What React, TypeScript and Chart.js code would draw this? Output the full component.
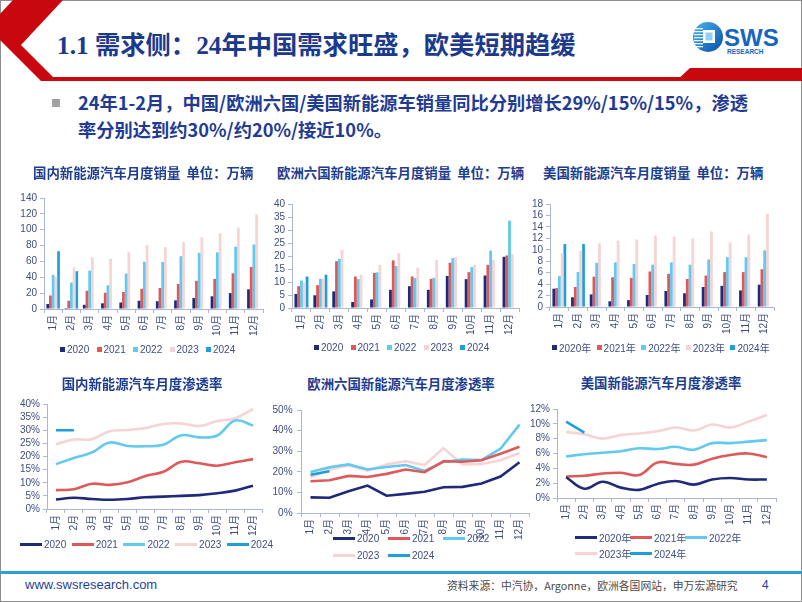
import React, { useEffect, useRef } from "react";
import { Chart, registerables } from "chart.js";

Chart.register(...registerables);

// ---------------- data ----------------
const months = ["1月", "2月", "3月", "4月", "5月", "6月", "7月", "8月", "9月", "10月", "11月", "12月"];
const yearLabels = ["2020", "2021", "2022", "2023", "2024"];
const yearLabelsCn = ["2020年", "2021年", "2022年", "2023年", "2024年"];
const yearColors = ["#1f2a78", "#de5a5a", "#62c9ef", "#f6d3d4", "#1f9fd8"];

// 国内新能源汽车月度销量（万辆）
const cnSales2020 = [6.3, 1.2, 5.3, 7.2, 8.2, 10.4, 9.8, 10.9, 13.8, 16.0, 20.0, 24.8];
const cnSales2021 = [17.0, 10.5, 23.0, 20.5, 21.5, 25.5, 26.5, 31.5, 35.5, 38.0, 45.0, 53.0];
const cnSales2022 = [43.0, 33.4, 48.4, 29.9, 44.7, 59.6, 59.3, 66.6, 70.8, 71.4, 78.6, 81.4];
const cnSales2023 = [40.8, 52.5, 65.3, 63.6, 71.7, 80.6, 78.0, 84.6, 90.4, 95.6, 102.6, 119.1];
const cnSales2024 = [72.9, 47.7, null, null, null, null, null, null, null, null, null, null];

// 欧洲六国新能源汽车月度销量（万辆）
const euSales2020 = [5.4, 4.9, 6.4, 2.3, 3.3, 7.0, 8.4, 7.0, 12.3, 11.1, 12.5, 19.7];
const euSales2021 = [8.4, 8.8, 18.0, 12.1, 13.5, 18.3, 12.1, 11.2, 17.4, 13.8, 16.6, 20.2];
const euSales2022 = [10.6, 11.2, 18.9, 11.1, 13.7, 16.2, 11.5, 11.6, 19.2, 15.7, 22.1, 33.6];
const euSales2023 = [9.8, 11.3, 22.4, 12.8, 16.6, 21.1, 15.5, 18.5, 19.6, 16.6, 18.5, 20.7];
const euSales2024 = [12.1, 12.8, null, null, null, null, null, null, null, null, null, null];

// 美国新能源汽车月度销量（万辆）
const usSales2020 = [3.2, 1.7, 2.2, 1.0, 1.2, 2.1, 2.8, 2.4, 3.5, 3.7, 2.9, 3.9];
const usSales2021 = [3.3, 3.5, 5.3, 5.2, 5.1, 6.2, 5.8, 4.9, 5.5, 6.1, 6.1, 6.6];
const usSales2022 = [5.4, 6.1, 7.7, 7.8, 7.5, 7.4, 7.8, 7.4, 8.3, 8.7, 8.7, 9.9];
const usSales2023 = [9.4, 9.8, 11.1, 11.6, 11.8, 12.5, 12.3, 12.0, 13.2, 11.3, 12.7, 16.3];
const usSales2024 = [11.0, 11.0, null, null, null, null, null, null, null, null, null, null];

// 国内新能源汽车月度渗透率（%）
const cnPen2020 = [3.6, 4.3, 3.8, 3.5, 3.8, 4.5, 4.7, 5.0, 5.3, 6.0, 7.0, 8.9];
const cnPen2021 = [7.2, 7.5, 9.6, 9.2, 10.2, 12.6, 14.2, 18.0, 17.4, 16.5, 17.8, 19.0];
const cnPen2022 = [17.1, 19.4, 21.5, 25.3, 24.0, 23.9, 24.5, 28.1, 27.3, 28.0, 33.7, 31.8];
const cnPen2023 = [24.7, 26.5, 26.6, 29.6, 30.1, 30.8, 32.4, 32.6, 31.6, 33.5, 34.6, 38.1];
const cnPen2024 = [30.0, 30.0, null, null, null, null, null, null, null, null, null, null];

// 欧洲六国新能源汽车月度渗透率（%）
const euPen2020 = [7.6, 7.4, 10.6, 13.3, 8.4, 9.3, 10.3, 12.5, 12.7, 14.3, 17.7, 24.6];
const euPen2021 = [15.4, 15.9, 18.0, 17.5, 19.0, 21.1, 19.8, 25.1, 24.9, 25.6, 28.8, 32.2];
const euPen2022 = [19.9, 22.2, 23.6, 21.1, 22.3, 23.3, 20.4, 24.8, 25.9, 25.7, 31.2, 42.9];
const euPen2023 = [17.2, 21.1, 23.2, 20.6, 23.5, 25.1, 23.3, 31.5, 23.6, 23.8, 25.6, 29.1];
const euPen2024 = [18.6, 20.3, null, null, null, null, null, null, null, null, null, null];

// 美国新能源汽车月度渗透率（%）
const usPen2020 = [2.8, 1.25, 2.2, 1.4, 1.1, 1.9, 2.3, 1.8, 2.5, 2.7, 2.5, 2.5];
const usPen2021 = [2.9, 3.0, 3.3, 3.4, 3.1, 4.8, 4.6, 4.5, 5.3, 5.8, 6.0, 5.5];
const usPen2022 = [5.6, 5.9, 6.1, 6.3, 6.7, 6.6, 6.9, 6.5, 7.4, 7.4, 7.6, 7.8];
const usPen2023 = [8.9, 8.6, 8.0, 8.5, 8.7, 9.0, 9.5, 9.1, 9.9, 9.5, 10.3, 11.2];
const usPen2024 = [10.3, 8.8, null, null, null, null, null, null, null, null, null, null];

// ---------------- styles ----------------
const CN_FONT = "'Noto Sans CJK SC', 'Noto Sans', sans-serif";
const TICK_FAMILY = "'Liberation Sans', Arial, 'Noto Sans CJK SC', sans-serif";
const TICK_COLOR = "#404d82";
const AXIS_COLOR = "#a9b5da";
const TITLE_COLOR = "#1d3d8f";
const Y_W = 34;
const X_H = 34;
const PAD_T = 8;
const PAD_R = 10;
const FIG_SPACE = "\u2007";

type Geom = { x: number; y: number; w: number; h: number };

function geomFromPlot(L: number, R: number, T: number, B: number): Geom {
  const x = L - Y_W;
  const y = T - PAD_T;
  return { x, y, w: R + PAD_R - x, h: B + X_H - y };
}

function baseOptions(yMax: number, yStep: number, pct: boolean, far?: boolean): any {
  return {
    responsive: false,
    animation: false,
    devicePixelRatio: 1,
    layout: { padding: { top: PAD_T, right: PAD_R, left: 0, bottom: 0 } },
    plugins: { legend: { display: false }, tooltip: { enabled: false } },
    scales: {
      x: {
        offset: true,
        grid: { offset: true, drawOnChartArea: false, tickLength: 4, color: AXIS_COLOR },
        border: { display: true, color: AXIS_COLOR },
        ticks: {
          autoSkip: false,
          minRotation: 90,
          maxRotation: 90,
          font: { family: TICK_FAMILY, size: 10 },
          color: TICK_COLOR,
          padding: 2,
        },
        afterFit: (s: any) => {
          s.height = X_H;
        },
      },
      y: {
        min: 0,
        max: yMax,
        grid: { drawOnChartArea: false, tickLength: 4, color: AXIS_COLOR },
        border: { display: true, color: AXIS_COLOR },
        ticks: {
          stepSize: yStep,
          autoSkip: false,
          crossAlign: far ? "far" : "near",
          font: { family: TICK_FAMILY, size: 10 },
          color: TICK_COLOR,
          padding: 3,
          callback: (v: any) => {
            const s = pct ? v + "%" : String(v);
            return far ? FIG_SPACE.repeat(Math.max(0, 4 - s.length)) + s : s;
          },
        },
        afterFit: (s: any) => {
          s.width = Y_W;
        },
      },
    },
  };
}

function barConfig(series: (number | null)[][], yMax: number, yStep: number): any {
  return {
    type: "bar",
    data: {
      labels: months,
      datasets: series.map((d, i) => ({
        label: yearLabels[i],
        data: d,
        backgroundColor: yearColors[i],
        borderWidth: 0,
        categoryPercentage: 0.74,
        barPercentage: 1.0,
      })),
    },
    options: baseOptions(yMax, yStep, false),
  };
}

function lineConfig(series: (number | null)[][], yMax: number, yStep: number, tension: number, far?: boolean): any {
  return {
    type: "line",
    data: {
      labels: months,
      datasets: series.map((d, i) => ({
        label: yearLabels[i],
        data: d,
        borderColor: yearColors[i],
        backgroundColor: yearColors[i],
        borderWidth: 2.6,
        pointRadius: 0,
        fill: false,
        tension,
        spanGaps: false,
        order: i === 4 ? -1 : i,
      })),
    },
    options: baseOptions(yMax, yStep, true, far),
  };
}

function ChartCanvas({ geom, make, bg }: { geom: Geom; make: () => any; bg?: string }) {
  const ref = useRef<HTMLCanvasElement>(null);
  useEffect(() => {
    const chart = new Chart(ref.current as HTMLCanvasElement, make());
    return () => chart.destroy();
  }, []);
  return (
    <div style={{ position: "absolute", left: geom.x, top: geom.y, width: geom.w, height: geom.h, background: bg }}>
      <canvas ref={ref} width={geom.w} height={geom.h} style={{ display: "block", width: geom.w, height: geom.h }} />
    </div>
  );
}

function BoxLegend({ labels, x0, step, y }: { labels: string[]; x0: number; step: number; y: number }) {
  return (
    <>
      {labels.map((lab, i) => (
        <div
          key={lab}
          style={{
            position: "absolute",
            left: x0 + i * step,
            top: y - 7,
            height: 14,
            display: "flex",
            alignItems: "center",
            whiteSpace: "nowrap",
            font: `10px ${TICK_FAMILY}`,
            color: TICK_COLOR,
          }}
        >
          <span style={{ display: "inline-block", width: 5, height: 5, background: yearColors[i], marginRight: 2 }} />
          {lab}
        </div>
      ))}
    </>
  );
}

function LineLegend({
  labels,
  x0,
  step,
  y,
  perRow,
  rowGap,
}: {
  labels: string[];
  x0: number;
  step: number;
  y: number;
  perRow: number;
  rowGap: number;
}) {
  return (
    <>
      {labels.map((lab, i) => (
        <div
          key={lab}
          style={{
            position: "absolute",
            left: x0 + (i % perRow) * step,
            top: y + Math.floor(i / perRow) * rowGap - 7,
            height: 14,
            display: "flex",
            alignItems: "center",
            whiteSpace: "nowrap",
            font: `10px ${TICK_FAMILY}`,
            color: TICK_COLOR,
          }}
        >
          <span style={{ display: "inline-block", width: 22, height: 3, background: yearColors[i], marginRight: 2 }} />
          {lab}
        </div>
      ))}
    </>
  );
}

function Text({
  x,
  y,
  size,
  children,
  color,
  weight,
  family,
  center,
}: {
  x: number;
  y: number;
  size: number;
  children: any;
  color: string;
  weight?: any;
  family?: string;
  center?: boolean;
}) {
  return (
    <div
      style={{
        position: "absolute",
        left: center ? x - 120 : x,
        width: center ? 240 : undefined,
        textAlign: center ? "center" : "left",
        top: y - size * 0.6,
        lineHeight: `${size * 1.2}px`,
        fontSize: size,
        fontWeight: weight ?? "bold",
        fontFamily: family ?? CN_FONT,
        color,
        whiteSpace: "pre",
      }}
    >
      {children}
    </div>
  );
}

const g1 = geomFromPlot(44, 263, 197, 309);
const g2 = geomFromPlot(292, 519, 203, 308);
const g3 = geomFromPlot(550, 774, 203, 307);
const g4 = geomFromPlot(47, 262, 403, 509);
const g5 = geomFromPlot(301, 529, 409, 513);
const g6 = geomFromPlot(557, 776, 408, 498);

export default function App() {
  return (
    <div
      style={{
        position: "absolute",
        left: 0,
        top: 0,
        width: 802,
        height: 602,
        background: "#ffffff",
        overflow: "hidden",
      }}
    >
      <svg width={802} height={602} style={{ position: "absolute", left: 0, top: 0 }}>
        <defs>
          <linearGradient id="swsg" x1="0" y1="0" x2="1" y2="1">
            <stop offset="0" stopColor="#49b4f2" />
            <stop offset="1" stopColor="#0a4ea3" />
          </linearGradient>
        </defs>
        <rect x={0.5} y={0.5} width={801} height={601} fill="none" stroke="#8f8f8f" strokeWidth={1} />
        <polygon points="13,0 63,0 21,45 53,77 802,77 802,81 41,81 0,40 0,14" fill="#c8070e" />
        <polygon points="676,81 690,68 802,68 802,81" fill="#c8070e" />
        <circle cx={708} cy={37} r={15} fill="url(#swsg)" />
        {[28, 31, 34, 37, 40, 43, 46].map((yy) => (
          <rect key={yy} x={694} y={yy} width={9} height={1.3} fill="#ffffff" opacity={0.9} />
        ))}
        <rect x={703} y={30} width={12} height={13} fill="#ffffff" />
        <rect x={705.5} y={32.5} width={7} height={8} fill="#8fd0f7" />
        <text x={724} y={46} fontFamily="'Liberation Sans', Arial, sans-serif" fontWeight="bold" fontSize={24} fill="#1765c1">
          SWS
        </text>
        <text x={727} y={54} fontFamily="'Liberation Sans', Arial, sans-serif" fontWeight="bold" fontSize={6.5} fill="#1765c1">
          RESEARCH
        </text>
        <rect x={52} y={99} width={8} height={8} fill="#a3a3a3" />
        <rect x={0} y={571} width={802} height={3} fill="#2f9fd1" />
      </svg>

      <ChartCanvas geom={g6} make={() => lineConfig([usPen2020, usPen2021, usPen2022, usPen2023, usPen2024], 12, 2, 0.4)} />
      <ChartCanvas geom={g3} make={() => barConfig([usSales2020, usSales2021, usSales2022, usSales2023, usSales2024], 18, 2)} />
      <ChartCanvas geom={g5} make={() => lineConfig([euPen2020, euPen2021, euPen2022, euPen2023, euPen2024], 50, 10, 0, true)} />
      <ChartCanvas geom={g2} bg="#ffffff" make={() => barConfig([euSales2020, euSales2021, euSales2022, euSales2023, euSales2024], 40, 5)} />
      <ChartCanvas geom={g4} make={() => lineConfig([cnPen2020, cnPen2021, cnPen2022, cnPen2023, cnPen2024], 40, 5, 0.4)} />
      <ChartCanvas geom={g1} make={() => barConfig([cnSales2020, cnSales2021, cnSales2022, cnSales2023, cnSales2024], 140, 20)} />

      <Text x={57} y={45} size={25.3} color="#1b3a8c" family={"'Liberation Serif', 'Noto Sans CJK SC', serif"}>
        1.1 需求侧：24年中国需求旺盛，欧美短期趋缓
      </Text>
      <Text x={78} y={103} size={18.25} color="#1f3b94">
        24年1-2月，中国/欧洲六国/美国新能源车销量同比分别增长29%/15%/15%，渗透
      </Text>
      <Text x={78} y={130} size={18.25} color="#1f3b94">
        率分别达到约30%/约20%/接近10%。
      </Text>

      <Text x={33} y={172.5} size={13.4} color={TITLE_COLOR}>
        国内新能源汽车月度销量  单位：万辆
      </Text>
      <Text x={277} y={172.5} size={13.4} color={TITLE_COLOR}>
        欧洲六国新能源汽车月度销量  单位：万辆
      </Text>
      <Text x={543} y={172.5} size={13.4} color={TITLE_COLOR}>
        美国新能源汽车月度销量  单位：万辆
      </Text>
      <Text x={142} y={383} size={13.4} color={TITLE_COLOR} center>
        国内新能源汽车月度渗透率
      </Text>
      <Text x={401} y={383} size={13.4} color={TITLE_COLOR} center>
        欧洲六国新能源汽车月度渗透率
      </Text>
      <Text x={661} y={382} size={13.4} color={TITLE_COLOR} center>
        美国新能源汽车月度渗透率
      </Text>

      <BoxLegend labels={yearLabels} x0={60} step={36.5} y={349} />
      <BoxLegend labels={yearLabels} x0={314} step={36.5} y={347} />
      <BoxLegend labels={yearLabelsCn} x0={552} step={44.6} y={347.5} />
      <LineLegend labels={yearLabels} x0={20} step={51.7} y={544} perRow={5} rowGap={0} />
      <LineLegend labels={yearLabels} x0={333} step={55} y={538} perRow={3} rowGap={17} />
      <LineLegend labels={yearLabelsCn} x0={575} step={55} y={537.5} perRow={3} rowGap={16} />

      <Text x={25} y={585} size={13} weight="normal" family={"'Liberation Sans', Arial, sans-serif"} color="#1f3f99">
        www.swsresearch.com
      </Text>
      <Text x={447} y={585} size={10.8} weight="normal" color="#4a4a4a">
        资料来源：中汽协，Argonne，欧洲各国网站，申万宏源研究
      </Text>
      <Text x={762} y={585} size={12} weight="normal" family={"'Liberation Sans', Arial, sans-serif"} color="#1f3f99">
        4
      </Text>
    </div>
  );
}
